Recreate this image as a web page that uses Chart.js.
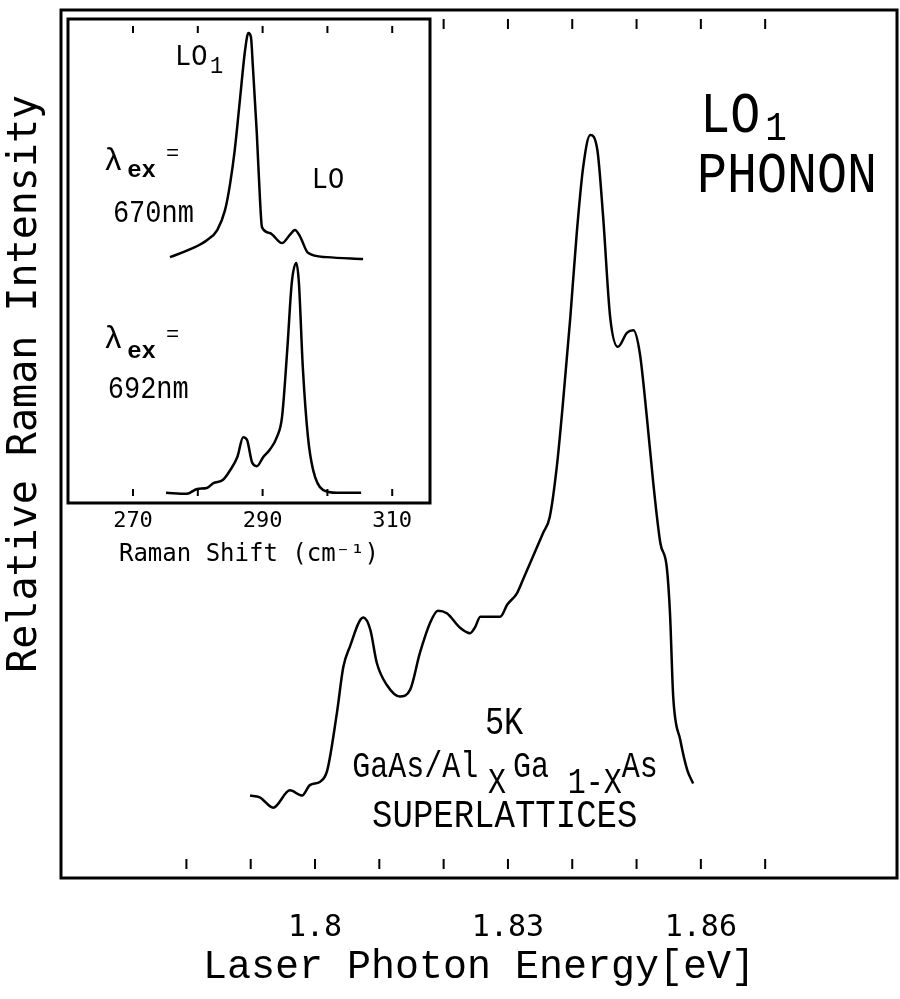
<!DOCTYPE html>
<html>
<head>
<meta charset="utf-8">
<script src="https://cdn.jsdelivr.net/npm/chart.js@4.4.0/dist/chart.umd.min.js"></script>
<style>
  html, body { margin: 0; padding: 0; background: #fff; }
  #wrap { position: relative; width: 900px; height: 999px; }
  #main { position: absolute; left: 0; top: 0; }
  #inset { position: absolute; left: 63px; top: 13px; }
</style>
</head>
<body>
<div id="wrap">
  <canvas id="main" width="900" height="999"></canvas>
  <canvas id="inset" width="375" height="567"></canvas>
</div>
<script>
// main spectrum: LO1 phonon intensity vs laser photon energy
const mainEnergy = [1.7899, 1.7914, 1.7935, 1.7961, 1.7980, 1.7992, 1.8008, 1.8019, 1.8034, 1.8044,
                    1.8054, 1.8075, 1.8086, 1.8096, 1.8112, 1.8132, 1.8148, 1.8163, 1.8179, 1.8191,
                    1.8205, 1.8226, 1.8241, 1.8249, 1.8257, 1.8288, 1.8299, 1.8314, 1.8323, 1.8355,
                    1.8365, 1.8376, 1.8386, 1.8397, 1.8407, 1.8417, 1.8428, 1.8439, 1.8448, 1.8459,
                    1.8471, 1.8485, 1.8495, 1.8505, 1.8516, 1.8526, 1.8537, 1.8547, 1.8552, 1.8557,
                    1.8568, 1.8579, 1.8588];
const mainIntensity = [9.5, 9.3, 8.1, 10.1, 9.5, 10.7, 11.1, 12.4, 19.0, 24.3,
                       26.6, 30.0, 28.6, 24.8, 22.2, 20.9, 21.7, 25.9, 29.4, 30.8,
                       30.5, 28.8, 28.2, 28.9, 30.1, 30.1, 31.5, 32.8, 34.3, 39.8,
                       41.6, 47.4, 55.1, 64.6, 74.3, 81.9, 85.6, 83.9, 76.2, 64.6,
                       61.2, 62.8, 63.1, 60.5, 53.1, 45.5, 38.6, 35.8, 30.5, 20.9,
                       15.9, 12.4, 10.9];
const mainTickVals = [1.78, 1.79, 1.80, 1.81, 1.82, 1.83, 1.84, 1.85, 1.86, 1.87];
const mainTickLabels = [1.80, 1.83, 1.86];

// inset: Raman spectra at two excitation wavelengths
const shift670 = [275.7, 279.3, 281.4, 283.0, 284.2, 285.0, 285.7, 286.5, 287.3, 287.8,
                  288.2, 288.5, 289.1, 289.6, 289.9, 291.1, 293.0, 294.2, 295.0, 295.8,
                  297.0, 299.9, 305.5];
const int670 = [50.8, 52.7, 54.3, 56.4, 60.5, 66.1, 72.9, 83.3, 93.6, 97.1,
                96.3, 90.1, 76.5, 62.6, 57.0, 55.8, 53.7, 55.4, 56.4, 55.0,
                51.7, 50.8, 50.4];
const shift692 = [275.1, 278.3, 279.9, 281.4, 282.4, 283.9, 285.0, 286.1, 287.0, 287.6,
                  288.4, 289.1, 290.1, 291.1, 292.2, 293.0, 293.8, 294.5, 295.2, 295.6,
                  296.2, 297.0, 297.8, 299.3, 301.5, 304.0, 305.2];
const int692 = [2.1, 1.9, 2.9, 3.1, 4.1, 4.8, 6.8, 9.5, 13.6, 13.0,
                8.3, 7.6, 9.5, 11.0, 13.6, 17.8, 31.6, 45.5, 49.6, 45.5,
                28.1, 13.6, 6.8, 2.7, 2.1, 2.1, 2.1];
const insetTickVals = [270, 280, 290, 300, 310];
const insetTickLabels = [270, 290, 310];

const serif = "'Liberation Mono', 'Courier New', monospace";
const plotter = "'DejaVu Sans Mono', monospace";

// text placed in data coordinates (tall = vertical stretch of the glyphs)
const mainNotes = [
    { text: 'LO', x: 1.8599, y: 85.9, size: 50, tall: 1.15 },
    { text: '1', x: 1.8700, y: 85.0, size: 36, tall: 1.15 },
    { text: 'PHONON', x: 1.8594, y: 79.0, size: 50, tall: 1.15 },
    { text: '5K', x: 1.8294, y: 16.6, size: 32, align: 'center', tall: 1.2 },
    { text: 'GaAs/Al', x: 1.8058, y: 11.6, size: 30, tall: 1.2 },
    { text: 'X', x: 1.8269, y: 9.8, size: 30, tall: 1.2 },
    { text: 'Ga', x: 1.8308, y: 11.6, size: 30, tall: 1.2 },
    { text: '1-X', x: 1.8393, y: 9.8, size: 30, tall: 1.2 },
    { text: 'As', x: 1.8477, y: 11.6, size: 30, tall: 1.2 },
    { text: 'SUPERLATTICES', x: 1.8295, y: 5.9, size: 34, align: 'center', tall: 1.15 }
];
const insetNotes = [
    { text: 'LO', x: 276.5, y: 90.5, size: 27, tall: 1.1 },
    { text: '1', x: 281.9, y: 88.8, size: 22, tall: 1.1 },
    { text: 'λ', x: 265.5, y: 68.8, size: 32 },
    { text: 'ex', x: 269.1, y: 67.4, size: 24, weight: 'bold' },
    { text: '=', x: 275.1, y: 70.9, size: 22 },
    { text: '670nm', x: 266.9, y: 58.1, size: 27, tall: 1.15 },
    { text: 'LO', x: 297.6, y: 65.1, size: 27, tall: 1.1 },
    { text: 'λ', x: 265.5, y: 32.0, size: 32 },
    { text: 'ex', x: 269.1, y: 30.0, size: 24, weight: 'bold' },
    { text: '=', x: 275.1, y: 33.5, size: 22 },
    { text: '692nm', x: 266.1, y: 21.7, size: 27, tall: 1.15 }
];

function toPoints(xs, ys) {
    return xs.map((x, i) => ({ x: x, y: ys[i] }));
}

// box around the plot plus small inward ticks that float off the frame
function frameTicks(tickVals, gap, len, lineWidth) {
    return {
        id: 'frameTicks',
        afterDatasetsDraw(chart) {
            const { ctx, chartArea: a, scales } = chart;
            ctx.save();
            ctx.strokeStyle = '#000';
            ctx.lineWidth = lineWidth;
            ctx.strokeRect(a.left, a.top, a.right - a.left, a.bottom - a.top);
            ctx.lineWidth = 2;
            ctx.beginPath();
            tickVals.forEach(v => {
                const x = scales.x.getPixelForValue(v);
                ctx.moveTo(x, a.bottom - gap);
                ctx.lineTo(x, a.bottom - gap - len);
                ctx.moveTo(x, a.top + gap);
                ctx.lineTo(x, a.top + gap + len);
            });
            ctx.stroke();
            ctx.restore();
        }
    };
}

function notesPlugin(items) {
    return {
        id: 'notes',
        afterDatasetsDraw(chart) {
            const { ctx, scales } = chart;
            items.forEach(n => {
                ctx.save();
                ctx.fillStyle = '#000';
                ctx.textBaseline = 'alphabetic';
                ctx.font = (n.weight || 'normal') + ' ' + n.size + 'px ' + serif;
                ctx.textAlign = n.align || 'left';
                ctx.translate(scales.x.getPixelForValue(n.x), scales.y.getPixelForValue(n.y));
                ctx.scale(1, n.tall || 1);
                ctx.fillText(n.text, 0, 0);
                ctx.restore();
            });
        }
    };
}

const whiteBg = {
    id: 'whiteBg',
    beforeDraw(chart) {
        const ctx = chart.ctx;
        ctx.save();
        ctx.fillStyle = '#fff';
        ctx.fillRect(0, 0, chart.width, chart.height);
        ctx.restore();
    }
};

function onlyLabels(labels, digits) {
    return v => labels.some(l => Math.abs(l - v) < 1e-6) ? String(+v.toFixed(digits)) : '';
}

Chart.defaults.color = '#000';

new Chart(document.getElementById('main'), {
    type: 'line',
    data: {
        datasets: [{
            data: toPoints(mainEnergy, mainIntensity),
            borderColor: '#000',
            borderWidth: 2.5,
            pointRadius: 0,
            cubicInterpolationMode: 'monotone',
            fill: false
        }]
    },
    options: {
        responsive: false,
        animation: false,
        events: [],
        layout: { padding: { top: 10, right: 3 } },
        plugins: { legend: { display: false }, tooltip: { enabled: false } },
        scales: {
            x: {
                type: 'linear',
                min: 1.7605,
                max: 1.8905,
                grid: { display: false, drawTicks: false },
                border: { display: false },
                afterBuildTicks: s => { s.ticks = mainTickVals.map(v => ({ value: v })); },
                ticks: {
                    autoSkip: false,
                    maxRotation: 0,
                    padding: 32,
                    font: { family: plotter, size: 30 },
                    callback: onlyLabels(mainTickLabels, 2)
                },
                title: {
                    display: true,
                    text: 'Laser Photon Energy[eV]',
                    font: { family: serif, size: 40 },
                    padding: { top: 0, bottom: 8 }
                },
                afterFit: s => { s.height = 121; }
            },
            y: {
                min: 0,
                max: 100,
                grid: { display: false, drawTicks: false },
                border: { display: false },
                ticks: { display: false },
                title: {
                    display: true,
                    text: '\u00a0\u00a0\u00a0\u00a0\u00a0Relative Raman Intensity',
                    font: { family: plotter, size: 40 },
                    padding: { top: 2, bottom: 0 }
                },
                afterFit: s => { s.width = 61; }
            }
        }
    },
    plugins: [frameTicks(mainTickVals, 9, 10, 3), notesPlugin(mainNotes)]
});

new Chart(document.getElementById('inset'), {
    type: 'line',
    data: {
        datasets: [
            {
                data: toPoints(shift670, int670),
                borderColor: '#000',
                borderWidth: 2.5,
                pointRadius: 0,
                cubicInterpolationMode: 'monotone',
                fill: false
            },
            {
                data: toPoints(shift692, int692),
                borderColor: '#000',
                borderWidth: 2.5,
                pointRadius: 0,
                cubicInterpolationMode: 'monotone',
                fill: false
            }
        ]
    },
    options: {
        responsive: false,
        animation: false,
        events: [],
        layout: { padding: { left: 5, right: 8, top: 6 } },
        plugins: { legend: { display: false }, tooltip: { enabled: false } },
        scales: {
            x: {
                type: 'linear',
                min: 259.97,
                max: 315.83,
                grid: { display: false, drawTicks: false },
                border: { display: false },
                afterBuildTicks: s => { s.ticks = insetTickVals.map(v => ({ value: v })); },
                ticks: {
                    autoSkip: false,
                    maxRotation: 0,
                    padding: 5,
                    font: { family: plotter, size: 22 },
                    callback: onlyLabels(insetTickLabels, 0)
                },
                title: {
                    display: true,
                    text: 'Raman Shift (cm⁻¹)',
                    font: { family: plotter, size: 24 },
                    padding: { top: 0, bottom: 11 }
                },
                afterFit: s => { s.height = 77; }
            },
            y: { display: false, min: 0, max: 100 }
        }
    },
    plugins: [whiteBg, frameTicks(insetTickVals, 7, 7, 3), notesPlugin(insetNotes)]
});
</script>
</body>
</html>
